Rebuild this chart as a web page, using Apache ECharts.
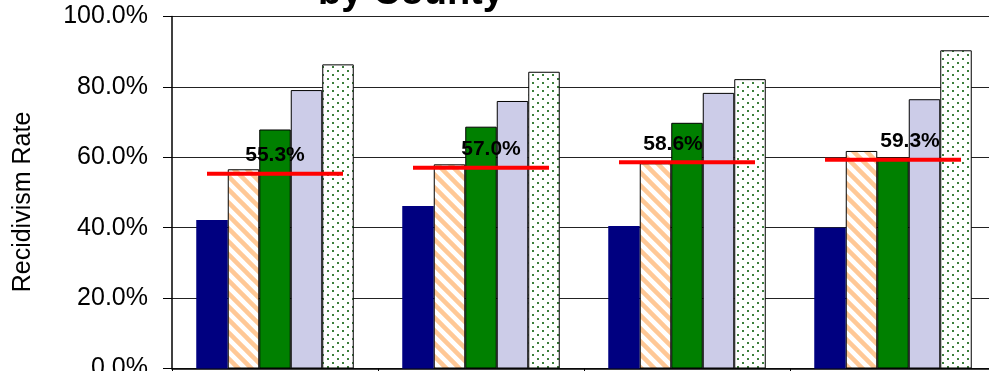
<!DOCTYPE html>
<html>
<head>
<meta charset="utf-8">
<script src="https://cdn.jsdelivr.net/npm/echarts@6/dist/echarts.min.js"></script>
<style>
  html, body { margin: 0; padding: 0; background: #ffffff; }
  #chart { width: 989px; height: 371px; }
</style>
</head>
<body>
<div id="chart"></div>
<script>
// Recidivism rate by county: five groups per county plus the county-wide rate
const categories = ['County A', 'County B', 'County C', 'County D'];
const groupNames = ['Group 1', 'Group 2', 'Group 3', 'Group 4', 'Group 5'];
const group1 = [42.2, 46.2, 40.5, 40.0];
const group2 = [56.6, 58.0, 58.3, 61.8];
const group3 = [67.9, 68.7, 69.8, 60.0];
const group4 = [79.1, 76.0, 78.3, 76.5];
const group5 = [86.4, 84.3, 82.2, 90.4];
const overallRate = [55.3, 57.0, 58.6, 59.3];
const yTicks = [0, 20, 40, 60, 80, 100];

const FONT = '"Liberation Sans", Arial, Helvetica, sans-serif';

// Diagonal orange hatching on white
function hatchPattern() {
  const s = 13;
  const c = document.createElement('canvas');
  c.width = s; c.height = s;
  const g = c.getContext('2d');
  g.fillStyle = '#ffffff';
  g.fillRect(0, 0, s, s);
  g.strokeStyle = '#FFC896';
  g.lineWidth = 4.5;
  for (let k = -1; k <= 1; k++) {
    g.beginPath();
    g.moveTo(k * s - 2, -2);
    g.lineTo(k * s + s + 2, s + 2);
    g.stroke();
  }
  return { image: c, repeat: 'repeat' };
}

// Staggered dark green dots on white
function dotPattern() {
  const w = 10, h = 8;
  const c = document.createElement('canvas');
  c.width = w; c.height = h;
  const g = c.getContext('2d');
  g.fillStyle = '#ffffff';
  g.fillRect(0, 0, w, h);
  g.fillStyle = '#3C7F3C';
  g.fillRect(2, 2, 2, 2);
  g.fillRect(7, 6, 2, 2);
  return { image: c, repeat: 'repeat' };
}

const barStyles = [
  { color: '#000080', borderColor: '#000080', borderWidth: 0 },
  { color: hatchPattern(), borderColor: '#000000', borderWidth: 1 },
  { color: '#008000', borderColor: '#000000', borderWidth: 1 },
  { color: '#CCCCE8', borderColor: '#000000', borderWidth: 1 },
  { color: dotPattern(), borderColor: '#000000', borderWidth: 1 }
];
const groupValues = [group1, group2, group3, group4, group5];

// Horizontal offsets of the rate labels, one per county
const labelShift = [0, 10, -14, 17];

const barSeries = groupValues.map((vals, i) => ({
  name: groupNames[i],
  type: 'bar',
  data: vals,
  barWidth: 31.5,
  barGap: '0%',
  itemStyle: barStyles[i],
  emphasis: { disabled: true },
  z: 2
}));

const rateSeries = {
  name: 'Overall',
  type: 'scatter',
  symbol: 'rect',
  symbolSize: [136, 4],
  itemStyle: { color: '#FF0000', opacity: 1 },
  data: overallRate.map((v, i) => ({
    value: v,
    label: { offset: [labelShift[i], 0] }
  })),
  label: {
    show: true,
    position: 'top',
    distance: 6,
    formatter: p => p.value.toFixed(1) + '%',
    color: '#000000',
    fontFamily: FONT,
    fontWeight: 'bold',
    fontSize: 21
  },
  emphasis: { disabled: true },
  z: 5
};

const chart = echarts.init(document.getElementById('chart'), null, { renderer: 'canvas' });
chart.setOption({
  animation: false,
  backgroundColor: '#ffffff',
  title: {
    text: 'by County',
    left: 406,
    top: -30,
    textAlign: 'center',
    textStyle: { fontFamily: FONT, fontWeight: 'bold', fontSize: 38, color: '#000000' }
  },
  graphic: [{
    type: 'text',
    x: 23,
    y: 202,
    rotation: Math.PI / 2,
    style: {
      text: 'Recidivism Rate',
      font: '25px ' + FONT,
      fill: '#000000',
      align: 'center',
      verticalAlign: 'middle'
    }
  }],
  grid: {
    left: 172, right: -7, top: 16.5, bottom: 2.5,
    containLabel: false,
    outerBoundsMode: 'none'
  },
  xAxis: {
    type: 'category',
    data: categories,
    axisLine: { lineStyle: { color: '#000000', width: 1.5 } },
    axisTick: { show: true, length: 6, lineStyle: { color: '#000000' } },
    axisLabel: { show: false }
  },
  yAxis: {
    type: 'value',
    min: yTicks[0],
    max: yTicks[yTicks.length - 1],
    interval: yTicks[1] - yTicks[0],
    axisLine: { show: true, lineStyle: { color: '#000000', width: 1.5 } },
    axisTick: { show: true, length: 9, lineStyle: { color: '#000000' } },
    axisLabel: {
      margin: 24,
      formatter: v => v.toFixed(1) + '%',
      fontFamily: FONT,
      fontSize: 25,
      color: '#000000'
    },
    splitLine: { show: true, lineStyle: { color: '#222222', width: 1 } }
  },
  series: [...barSeries, rateSeries]
});
</script>
</body>
</html>
